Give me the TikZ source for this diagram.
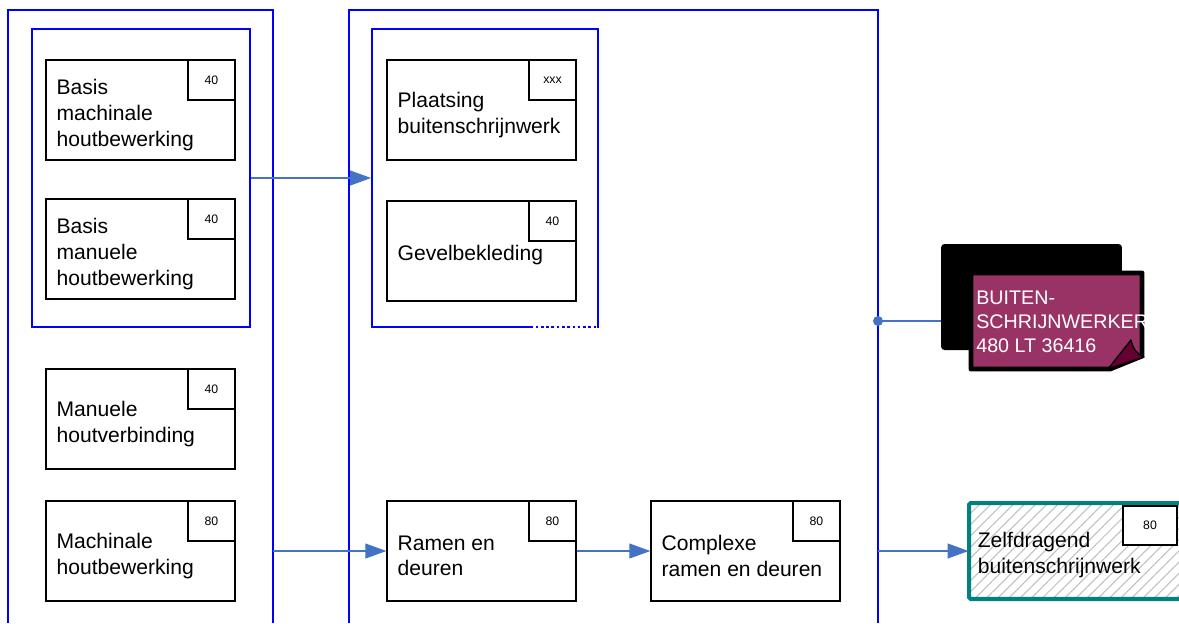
\documentclass[tikz,border=0pt]{standalone}
\usepackage{fontspec}
\setmainfont{Liberation Sans}
\usetikzlibrary{arrows.meta,patterns.meta}

\definecolor{linkblue}{RGB}{68,114,196}
\definecolor{notepurple}{RGB}{153,51,102}
\definecolor{foldpurple}{RGB}{102,0,51}
\definecolor{frametea}{RGB}{0,128,128}

\begin{document}
\begin{tikzpicture}[x=0.02cm, y=-0.02cm,
  grp/.style={draw=blue, line width=1.1pt},
  unit/.style={draw=black, line width=0.8pt, minimum width=3.78cm, minimum height=2cm},
  txt/.style={anchor=west, align=left, inner sep=0pt, font=\fontsize{12}{14.6}\selectfont},
  nr/.style={draw=black, fill=white, line width=0.8pt, minimum width=0.94cm, minimum height=0.8cm,
    inner sep=0pt, anchor=north east, font=\fontsize{7}{8}\selectfont},
  link/.style={draw=linkblue, line width=0.6pt, -{Triangle[length=0.42cm,width=0.3cm]}}]

\useasboundingbox (0,0) rectangle (1179,623);
\clip (0,0) rectangle (1179,623);

% Draw the two columns
\draw [grp] (8,623) -- (8,10) -- (273,10) -- (273,623);
\draw [grp] (349,623) -- (349,10) -- (878,10) -- (878,623);
\coordinate (colA) at (273,551);
\coordinate (colB) at (878,551);
\coordinate (tap)  at (878,321);

% Draw the groups
\node [grp, minimum width=4.36cm, minimum height=5.96cm] (grpA) at (141,178) {};
\node [grp, minimum width=4.52cm, minimum height=5.96cm] (grpB) at (485,178) {};
\draw [white, line width=1pt, dash pattern=on 1.5pt off 1.5pt] (533,327) -- (597,327);

% Left column
\node [unit] (bmh) at (140.5,110) {};
\node [txt] at ([xshift=0.22cm,yshift=-0.1cm]bmh.west) {Basis\\machinale\\houtbewerking};
\node [nr] at (bmh.north east) {40};
\node [unit] (bmn) at (140.5,249) {};
\node [txt] at ([xshift=0.22cm,yshift=-0.1cm]bmn.west) {Basis\\manuele\\houtbewerking};
\node [nr] at (bmn.north east) {40};
\node [unit] (mhv) at (140.5,419) {};
\node [txt] at ([xshift=0.22cm,yshift=-0.1cm]mhv.west) {Manuele\\houtverbinding};
\node [nr] at (mhv.north east) {40};
\node [unit] (mhb) at (140.5,551) {};
\node [txt] at ([xshift=0.22cm,yshift=-0.1cm]mhb.west) {Machinale\\houtbewerking};
\node [nr] at (mhb.north east) {80};

% Middle column
\node [unit] (pbs) at (481.5,110) {};
\node [txt] at ([xshift=0.22cm,yshift=-0.1cm]pbs.west) {Plaatsing\\buitenschrijnwerk};
\node [nr] at (pbs.north east) {xxx};
\node [unit] (gvb) at (481.5,251) {};
\node [txt] at ([xshift=0.22cm,yshift=-0.08cm]gvb.west) {Gevelbekleding};
\node [nr] at (gvb.north east) {40};
\node [unit] (red) at (481.5,551) {};
\node [txt] at ([xshift=0.22cm,yshift=-0.1cm]red.west) {Ramen en\\deuren};
\node [nr] at (red.north east) {80};
\node [unit] (crd) at (745.5,551) {};
\node [txt] at ([xshift=0.22cm,yshift=-0.1cm]crd.west) {Complexe\\ramen en deuren};
\node [nr] at (crd.north east) {80};

% Hatched unit on the right
\node [draw=frametea, line width=2.3pt, rounded corners=1pt,
  pattern={Lines[angle=45, distance=4.5pt, line width=0.6pt]}, pattern color=black!25,
  minimum width=4.42cm, minimum height=1.92cm] (zsb) at (1079.5,551) {};
\node [txt] at ([xshift=0.18cm,yshift=-0.08cm]zsb.west) {Zelfdragend\\buitenschrijnwerk};
\node [nr, minimum width=1.08cm, minimum height=0.78cm, anchor=center] at (1150,525.5) {80};

% Occupation note
\node [fill=black, rounded corners=2pt, minimum width=3.62cm, minimum height=2.12cm] (occ) at (1031.5,297) {};
\draw [line width=2.8pt, fill=notepurple, line join=round]
  (971,273) -- (1142,273) -- (1142,356) -- (1110,369) -- (971,369) -- cycle;
\draw [fill=foldpurple, line width=0.8pt, line join=round]
  (1108,369) -- (1131,340) .. controls (1133,349) and (1137,354) .. (1144,357) -- cycle;
\node [white, anchor=west, align=left, inner sep=0pt, font=\fontsize{11.2}{13.6}\selectfont] (job)
  at (976,322) {BUITEN-\\SCHRIJNWERKER\\480 LT 36416};

% Draw connectors
\draw [link] (grpA.east) -- (grpB.west);
\draw [link] (colA) -- (red.west);
\draw [link] (red.east) -- (crd.west);
\draw [link] (colB) -- (zsb.west);
\draw [linkblue, line width=0.6pt] (tap) -- (tap -| occ.west);
\fill [linkblue] (tap) circle (5);

\end{tikzpicture}
\end{document}
